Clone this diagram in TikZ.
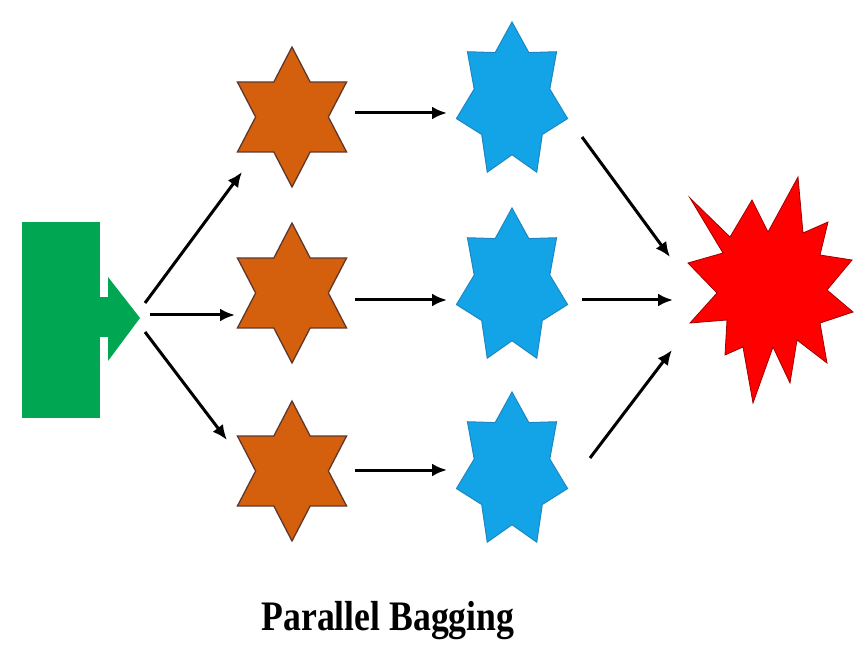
\documentclass[tikz,border=0pt]{standalone}
\usepackage{graphicx}
\usepackage{fontspec}
\setmainfont{Liberation Serif}
\usetikzlibrary{arrows.meta}

\definecolor{inputgreen}{RGB}{0,166,81}
\definecolor{bagbrown}{RGB}{212,96,14}
\definecolor{bagbrowndk}{RGB}{95,55,45}
\definecolor{modelblue}{RGB}{18,164,230}
\definecolor{modelbluedk}{RGB}{30,135,195}
\definecolor{burstred}{RGB}{255,0,0}
\definecolor{burstreddk}{RGB}{160,0,0}

\tikzset{
  arr/.style={line width=3pt, -{Latex[length=15pt,width=13pt]}},
  brownstar/.style={fill=bagbrown, draw=bagbrowndk, line width=1.3pt},
  bluestar/.style={fill=modelblue, draw=modelbluedk, line width=1pt},
  burst/.style={fill=burstred, draw=burstreddk, line width=0.8pt},
}

\begin{document}
\begin{tikzpicture}[x=1pt, y=1pt]
  \useasboundingbox[fill=white] (0,0) rectangle (860,-652);
  % input block with its pointer
  \fill[inputgreen] (22,-222) rectangle (100,-418);
  \fill[inputgreen] (99,-297) rectangle (109,-337);
  \fill[inputgreen] (108,-277) -- (140,-318) -- (108,-361) -- cycle;
  % star centres
  \coordinate (b1) at (292,-117);
  \coordinate (b2) at (292,-293);
  \coordinate (b3) at (292,-471);
  \coordinate (m1) at (512,-101);
  \coordinate (m2) at (512,-287);
  \coordinate (m3) at (512,-471);
  % bootstrap samples (six points)
  \foreach \c in {b1,b2,b3}
    \filldraw[brownstar, shift={(\c)}] (90:63 and 70)
      \foreach \k [evaluate=\k as \f using {1-0.423*mod(\k,2)}] in {1,...,11}
        { -- ({90+30*\k}:{63*\f} and {70*\f}) } -- cycle;
  % models (seven points)
  \foreach \c in {m1,m2,m3}
    \filldraw[bluestar, shift={(\c)}] (90:57 and 79)
      \foreach \k [evaluate=\k as \f using {1-0.32*mod(\k,2)}] in {1,...,13}
        { -- ({90+180/7*\k}:{57*\f} and {79*\f}) } -- cycle;
  % combined result
  \filldraw[burst] (690,-198) -- (730,-237) -- (752,-200) -- (768,-232)
    -- (798,-177) -- (803,-233) -- (828,-222) -- (820,-255) -- (852,-260)
    -- (827,-290) -- (853,-312) -- (820,-323) -- (827,-363) -- (797,-340)
    -- (790,-383) -- (773,-347) -- (753,-403) -- (743,-347) -- (725,-355)
    -- (727,-320) -- (690,-323) -- (717,-293) -- (688,-263) -- (723,-253) -- cycle;
  % arrow ends
  \foreach \n/\x/\y in {g1/145/-303, g2/150/-315, g3/145/-332,
      b1in/242/-172, b2in/235/-315, b3in/227/-440,
      b1out/355/-113, b2out/355/-300, b3out/355/-470,
      m1in/447/-113, m2in/447/-300, m3in/447/-470,
      m1out/582/-137, m2out/582/-300, m3out/590/-458,
      r1/670/-257, r2/673/-300, r3/672/-350}
    \coordinate (\n) at (\x,\y);
  \foreach \a/\b in {g1/b1in, g2/b2in, g3/b3in, b1out/m1in, b2out/m2in,
      b3out/m3in, m1out/r1, m2out/r2, m3out/r3}
    \draw[arr] (\a) -- (\b);
  \node[font=\bfseries\fontsize{42}{48}\selectfont, anchor=base] (title)
    at (388,-630) {\scalebox{0.85}[1]{Parallel Bagging}};
\end{tikzpicture}
\end{document}
